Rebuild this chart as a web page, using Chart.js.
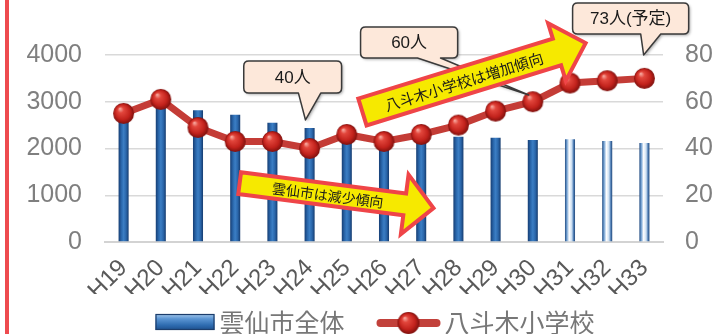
<!DOCTYPE html>
<html><head><meta charset="utf-8">
<script src="https://cdn.jsdelivr.net/npm/chart.js@4.4.1/dist/chart.umd.min.js"></script>
<style>
html,body{margin:0;padding:0;background:#fff;width:713px;height:334px;overflow:hidden;}
#wrap{position:absolute;left:0;top:0;width:713px;height:334px;}
#redbar{position:absolute;left:5px;top:0;width:4px;height:334px;background:#ee4b4f;}
</style></head><body>
<div id="wrap"><canvas id="c" width="713" height="334"></canvas></div>
<div id="redbar"></div>
<script>
// ---- data ----
const categories = ['H19','H20','H21','H22','H23','H24','H25','H26','H27','H28','H29','H30','H31','H32','H33'];
const cityTotal = [2940, 2880, 2820, 2720, 2550, 2440, 2380, 2330, 2280, 2250, 2230, 2180, 2200, 2160, 2120];
const yatsugiSchool = [55, 61, 49, 43, 43, 40, 46, 43, 46, 50, 56, 60, 68, 69, 70];
const forecastStart = 'H31';
const leftTicks = [0, 1000, 2000, 3000, 4000];
const rightTicks = [0, 20, 40, 60, 80];
const seriesNames = ['雲仙市全体', '八斗木小学校'];
const calloutTexts = ['40人', '60人', '73人(予定)'];
const arrowTexts = ['八斗木小学校は増加傾向', '雲仙市は減少傾向'];

const JP = '"Liberation Sans", "Noto Sans CJK JP", sans-serif';
const BAR_FRAC = 0.27;

function makeSphere(r) {
  const s = Math.ceil(r * 2 + 2);
  const c = document.createElement('canvas');
  c.width = c.height = s;
  const g = c.getContext('2d');
  const cx = s / 2, cy = s / 2;
  const grad = g.createRadialGradient(cx - r * 0.35, cy - r * 0.45, r * 0.05, cx, cy, r);
  grad.addColorStop(0, '#f6a49a');
  grad.addColorStop(0.25, '#e2463c');
  grad.addColorStop(0.7, '#c2221c');
  grad.addColorStop(1, '#7e100d');
  g.fillStyle = grad;
  g.beginPath(); g.arc(cx, cy, r, 0, Math.PI * 2); g.fill();
  return c;
}
const sphere = makeSphere(10.5);
const legendSphere = makeSphere(11);

const forecastIdx = categories.indexOf(forecastStart);

function barFill(ctx) {
  const chart = ctx.chart;
  const xs = chart.scales.x;
  if (!xs || ctx.type !== 'data' || !isFinite(xs.getPixelForValue(ctx.dataIndex))) return '#2a67ad';
  const cx = xs.getPixelForValue(ctx.dataIndex);
  const w = xs.width / categories.length * BAR_FRAC;
  const g = chart.ctx.createLinearGradient(cx - w / 2, 0, cx + w / 2, 0);
  if (ctx.dataIndex >= forecastIdx) {
    g.addColorStop(0, '#234c82');
    g.addColorStop(0.18, '#6d9dd0');
    g.addColorStop(0.42, '#ffffff');
    g.addColorStop(0.68, '#c9ddf1');
    g.addColorStop(0.85, '#507fb6');
    g.addColorStop(1, '#1f4678');
  } else {
    g.addColorStop(0, '#163e74');
    g.addColorStop(0.3, '#2b69ae');
    g.addColorStop(0.5, '#3b7ec4');
    g.addColorStop(0.75, '#2a66aa');
    g.addColorStop(1, '#153b6e');
  }
  return g;
}

function bubble(c, box, base, tip, text) {
  const [x1, y1, x2, y2] = box;
  const r = 5;
  c.save();
  c.beginPath();
  c.moveTo(x1 + r, y1);
  c.lineTo(x2 - r, y1);
  c.quadraticCurveTo(x2, y1, x2, y1 + r);
  c.lineTo(x2, y2 - r);
  c.quadraticCurveTo(x2, y2, x2 - r, y2);
  c.lineTo(base[1], y2);
  c.lineTo(tip[0], tip[1]);
  c.lineTo(base[0], y2);
  c.lineTo(x1 + r, y2);
  c.quadraticCurveTo(x1, y2, x1, y2 - r);
  c.lineTo(x1, y1 + r);
  c.quadraticCurveTo(x1, y1, x1 + r, y1);
  c.closePath();
  c.shadowColor = 'rgba(0,0,0,0.35)';
  c.shadowBlur = 3; c.shadowOffsetX = 1.5; c.shadowOffsetY = 1.5;
  c.fillStyle = '#fde8da';
  c.fill();
  c.shadowColor = 'transparent';
  c.lineWidth = 1.5; c.strokeStyle = '#3a3a3a'; c.lineJoin = 'round';
  c.stroke();
  c.fillStyle = '#1a1a1a';
  c.font = '17px ' + JP;
  c.textAlign = 'center'; c.textBaseline = 'middle';
  c.fillText(text, (x1 + x2) / 2, (y1 + y2) / 2 + 1);
  c.restore();
}

function arrow(c, from, to, hw, HW, hl, text, textU, fs) {
  const dx = to[0] - from[0], dy = to[1] - from[1];
  const L = Math.hypot(dx, dy), a = Math.atan2(dy, dx);
  c.save();
  c.translate(from[0], from[1]);
  c.rotate(a);
  c.beginPath();
  c.moveTo(0, -hw); c.lineTo(L - hl, -hw); c.lineTo(L - hl, -HW); c.lineTo(L, 0);
  c.lineTo(L - hl, HW); c.lineTo(L - hl, hw); c.lineTo(0, hw); c.closePath();
  c.fillStyle = '#f6e900';
  c.fill();
  c.lineWidth = 4; c.strokeStyle = '#ef4548'; c.lineJoin = 'miter';
  c.stroke();
  c.fillStyle = '#1a1a1a';
  c.font = fs + 'px "Noto Sans CJK JP", sans-serif';
  c.textAlign = 'center'; c.textBaseline = 'middle';
  c.fillText(text, textU, 1);
  c.restore();
}

const annotations = {
  id: 'annotations',
  afterDatasetsDraw(chart) {
    const c = chart.ctx;
    const xs = chart.scales.x, yr = chart.scales.y1;
    const P = (xi, v) => [xs.getPixelForValue(xi), yr.getPixelForValue(v)];
    const X = xi => xs.getPixelForValue(xi);
    const Y = v => yr.getPixelForValue(v);
    bubble(c, [X(3.23), Y(77.4), X(5.86), Y(63.7)], [X(4.70), X(5.30)], P(4.89, 52.2), calloutTexts[0]);
    bubble(c, [X(6.37), Y(92.0), X(8.98), Y(78.7)], [X(7.90), X(8.52)], P(10.89, 62.9), calloutTexts[1]);
    bubble(c, [X(12.07), Y(102.2), X(15.19), Y(89.0)], [X(13.90), X(14.44)], P(13.98, 80), calloutTexts[2]);
    arrow(c, P(6.42, 55.6), P(12.42, 85.1), 14, 30, 30, arrowTexts[0], 106, 15);
    arrow(c, P(3.12, 25.2), P(8.33, 14.5), 11, 30, 29, arrowTexts[1], 89, 14);
  }
};

const customLegend = {
  id: 'customLegend',
  afterDraw(chart) {
    const c = chart.ctx;
    const ca = chart.chartArea;
    c.save();
    c.font = '25px "Noto Sans CJK JP", sans-serif';
    const w1 = c.measureText(seriesNames[0]).width;
    const w2 = c.measureText(seriesNames[1]).width;
    const total = 59 + 5 + w1 + 33 + 62 + 5 + w2;
    let x = (ca.left + ca.right) / 2 - 9 - total / 2;
    const yc = 322;
    const g = c.createLinearGradient(0, yc - 8, 0, yc + 8);
    g.addColorStop(0, '#a6c9ec');
    g.addColorStop(0.3, '#5b95d3');
    g.addColorStop(0.7, '#2e6cb0');
    g.addColorStop(1, '#1d4f8c');
    c.fillStyle = g;
    c.fillRect(x, yc - 8, 59, 16);
    c.strokeStyle = '#1c3d6b'; c.lineWidth = 1.2;
    c.strokeRect(x + 0.5, yc - 7.5, 58, 15);
    x += 59 + 5;
    c.fillStyle = '#777777';
    c.textAlign = 'left'; c.textBaseline = 'middle';
    c.fillText(seriesNames[0], x, yc);
    x += w1 + 33;
    c.strokeStyle = '#c2413b'; c.lineWidth = 8; c.lineCap = 'round';
    c.beginPath(); c.moveTo(x + 3, yc + 1); c.lineTo(x + 59, yc + 1); c.stroke();
    c.drawImage(legendSphere, x + 31 - legendSphere.width / 2, yc + 1 - legendSphere.height / 2);
    x += 62 + 5;
    c.fillText(seriesNames[1], x, yc);
    c.restore();
  }
};

new Chart(document.getElementById('c'), {
  data: {
    labels: categories,
    datasets: [
      {
        type: 'line',
        label: seriesNames[1],
        data: yatsugiSchool,
        yAxisID: 'y1',
        order: 0,
        borderColor: '#c43c36',
        borderWidth: 7,
        pointStyle: sphere,
        pointRadius: 10,
        pointHoverRadius: 10,
        tension: 0
      },
      {
        type: 'bar',
        label: seriesNames[0],
        data: cityTotal,
        yAxisID: 'y',
        order: 1,
        backgroundColor: barFill,
        barPercentage: BAR_FRAC,
        categoryPercentage: 1
      }
    ]
  },
  options: {
    responsive: false,
    animation: false,
    devicePixelRatio: 1,
    layout: { padding: { top: 55, bottom: 40, left: 0, right: 0 } },
    plugins: { legend: { display: false }, tooltip: { enabled: false } },
    scales: {
      x: {
        offset: true,
        grid: { display: false },
        border: { display: true, color: '#d3d3d3', width: 2 },
        ticks: {
          autoSkip: false, minRotation: 45, maxRotation: 45, padding: 4,
          color: '#595959', font: { family: '"Liberation Sans", sans-serif', size: 24 }
        },
        afterFit(s) { s.height = 334 - 40 - 242; }
      },
      y: {
        position: 'left',
        min: 0, max: 4000,
        afterBuildTicks(s) { s.ticks = leftTicks.map(v => ({ value: v })); },
        grid: { color: '#d9d9d9', lineWidth: 1.5, drawTicks: false },
        border: { display: false },
        ticks: { padding: 23, color: '#7f7f7f', callback: v => String(v), font: { family: '"Liberation Sans", sans-serif', size: 25 } },
        afterFit(s) { s.width = 105; }
      },
      y1: {
        position: 'right',
        min: 0, max: 80,
        afterBuildTicks(s) { s.ticks = rightTicks.map(v => ({ value: v })); },
        grid: { display: false, drawTicks: false },
        border: { display: false },
        ticks: { padding: 22, color: '#7f7f7f', callback: v => String(v), font: { family: '"Liberation Sans", sans-serif', size: 25 } },
        afterFit(s) { s.width = 50; }
      }
    }
  },
  plugins: [annotations, customLegend]
});
</script>
</body></html>
